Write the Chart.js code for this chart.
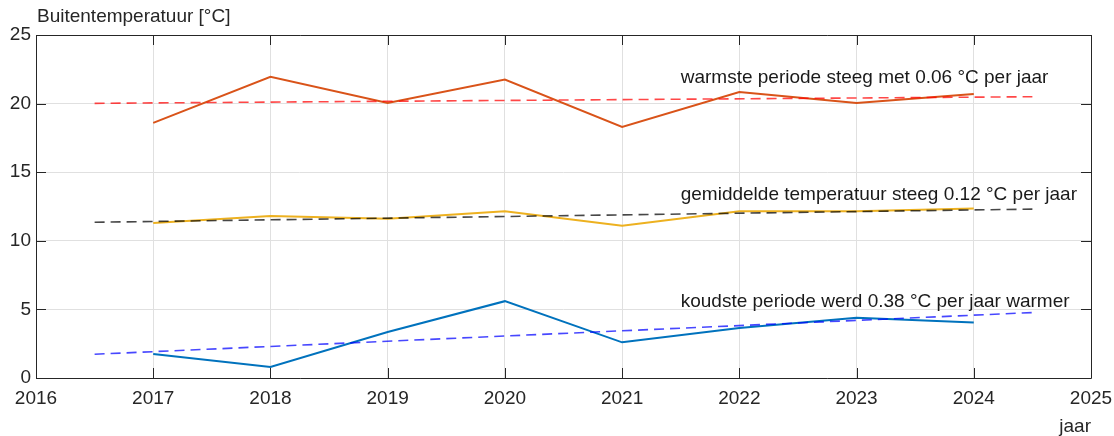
<!DOCTYPE html>
<html>
<head>
<meta charset="utf-8">
<script src="https://cdn.jsdelivr.net/npm/chart.js@4"></script>
<style>
  html, body { margin: 0; padding: 0; background: #fff; }
  #wrap { width: 1114px; height: 436px; }
</style>
</head>
<body>
<div id="wrap"><canvas id="tempChart" width="1114" height="436"></canvas></div>
<script>
// jaren en temperaturen per periode
var jaren = [2017, 2018, 2019, 2020, 2021, 2022, 2023, 2024];
var warmste = [18.6, 21.95, 20.05, 21.75, 18.3, 20.85, 20.05, 20.7];
var gemiddeld = [11.3, 11.8, 11.6, 12.15, 11.1, 12.15, 12.15, 12.35];
var koudste = [1.75, 0.8, 3.35, 5.6, 2.6, 3.65, 4.4, 4.05];

// trendlijnen (begin- en eindpunt)
var trendJaren = [2016.5, 2024.5];
var trendWarm = [20.02, 20.5];
var trendGem = [11.35, 12.31];
var trendKoud = [1.73, 4.77];

var xTicks = [2016, 2017, 2018, 2019, 2020, 2021, 2022, 2023, 2024, 2025];
var yTicks = [0, 5, 10, 15, 20, 25];

var teksten = [
  { x: 2021.5, y: 21.9, tekst: 'warmste periode steeg met 0.06 °C per jaar' },
  { x: 2021.5, y: 13.35, tekst: 'gemiddelde temperatuur steeg 0.12 °C per jaar' },
  { x: 2021.5, y: 5.55, tekst: 'koudste periode werd 0.38 °C per jaar warmer' }
];

function punten(xs, ys) {
  return xs.map(function (x, i) { return { x: x, y: ys[i] }; });
}

var FONT = '"Liberation Sans", Arial, Helvetica, sans-serif';
var INK = '#262626';

// kader, naar binnen wijzende tickjes en teksten
var kaderPlugin = {
  id: 'kader',
  afterDraw: function (chart) {
    var ctx = chart.ctx, a = chart.chartArea;
    var sx = chart.scales.x, sy = chart.scales.y;
    var len = 10;
    ctx.save();
    ctx.strokeStyle = INK;
    ctx.lineWidth = 1;
    ctx.beginPath();
    ctx.rect(Math.round(a.left) + 0.5, Math.round(a.top) + 0.5,
      Math.round(a.right - a.left), Math.round(a.bottom - a.top));
    xTicks.forEach(function (t) {
      var px = Math.round(sx.getPixelForValue(t)) + 0.5;
      ctx.moveTo(px, a.bottom); ctx.lineTo(px, a.bottom - len);
      ctx.moveTo(px, a.top); ctx.lineTo(px, a.top + len);
    });
    yTicks.forEach(function (t) {
      var py = Math.round(sy.getPixelForValue(t)) + 0.5;
      ctx.moveTo(a.left, py); ctx.lineTo(a.left + len, py);
      ctx.moveTo(a.right, py); ctx.lineTo(a.right - len, py);
    });
    ctx.stroke();

    ctx.fillStyle = '#1a1a1a';
    ctx.font = '19px ' + FONT;
    ctx.textBaseline = 'middle';
    ctx.textAlign = 'left';
    teksten.forEach(function (t) {
      ctx.fillText(t.tekst, sx.getPixelForValue(t.x), sy.getPixelForValue(t.y));
    });

    ctx.fillStyle = INK;
    ctx.font = '19px ' + FONT;
    ctx.fillText('Buitentemperatuur [°C]', 37, 17);
    ctx.textAlign = 'right';
    ctx.fillText('jaar', 1091, 427);
    ctx.restore();
  }
};

var el = document.getElementById('tempChart');
new Chart(el, {
  type: 'line',
  data: {
    datasets: [
      { data: punten(trendJaren, trendWarm), borderColor: 'rgba(255,0,0,0.72)', borderWidth: 1.6, borderDash: [10, 6] },
      { data: punten(trendJaren, trendGem), borderColor: 'rgba(0,0,0,0.72)', borderWidth: 1.6, borderDash: [10, 6] },
      { data: punten(trendJaren, trendKoud), borderColor: 'rgba(0,0,255,0.72)', borderWidth: 1.6, borderDash: [10, 6] },
      { data: punten(jaren, warmste), borderColor: '#D95319', borderWidth: 2 },
      { data: punten(jaren, gemiddeld), borderColor: '#EDB120', borderWidth: 2 },
      { data: punten(jaren, koudste), borderColor: '#0072BD', borderWidth: 2 }
    ]
  },
  options: {
    responsive: false,
    animation: false,
    events: [],
    layout: { padding: { top: 35, right: 23, left: 0, bottom: 0 } },
    elements: { point: { radius: 0 }, line: { tension: 0, fill: false } },
    plugins: { legend: { display: false }, tooltip: { enabled: false } },
    scales: {
      x: {
        type: 'linear', min: 2016, max: 2025,
        afterFit: function (s) { s.height = 58; s.paddingLeft = 0; s.paddingRight = 0; },
        afterBuildTicks: function (s) { s.ticks = xTicks.map(function (v) { return { value: v }; }); },
        grid: { color: '#e0e0e0', drawTicks: false },
        border: { display: false },
        ticks: { color: INK, padding: 9, font: { family: FONT, size: 19 }, callback: function (v) { return String(v); }, maxRotation: 0 }
      },
      y: {
        min: 0, max: 25,
        afterFit: function (s) { s.width = 36; s.paddingTop = 0; s.paddingBottom = 0; },
        afterBuildTicks: function (s) { s.ticks = yTicks.map(function (v) { return { value: v }; }); },
        grid: { color: '#e0e0e0', drawTicks: false },
        border: { display: false },
        ticks: { color: INK, padding: 5, font: { family: FONT, size: 19 } }
      }
    }
  },
  plugins: [kaderPlugin]
});
</script>
</body>
</html>
